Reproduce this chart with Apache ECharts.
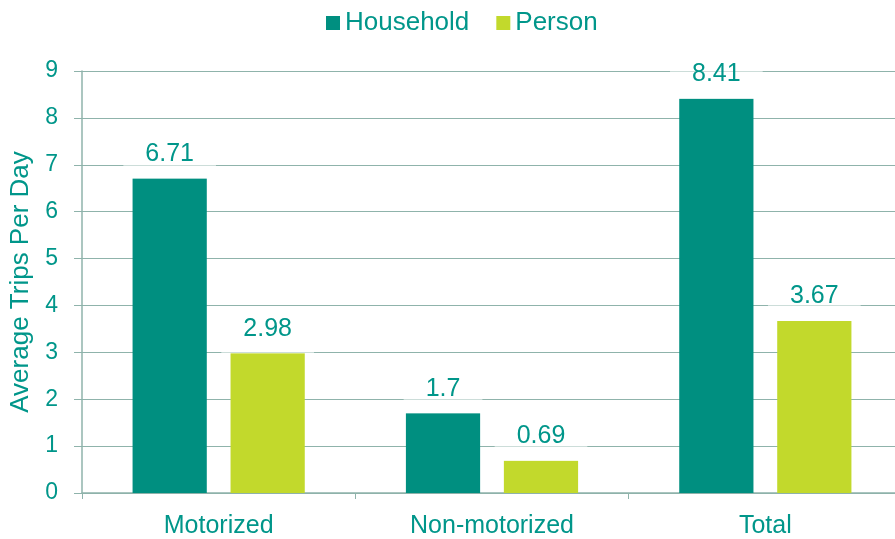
<!DOCTYPE html>
<html>
<head>
<meta charset="utf-8">
<script src="https://cdn.jsdelivr.net/npm/echarts@6/dist/echarts.min.js"></script>
<style>
html,body{margin:0;padding:0;background:#fff;}
#chart{width:895px;height:539px;}
</style>
</head>
<body>
<div id="chart"></div>
<script>
var categories = ['Motorized', 'Non-motorized', 'Total'];
var householdTrips = [6.71, 1.7, 8.41];
var personTrips = [2.98, 0.69, 3.67];
var yTicks = [0, 1, 2, 3, 4, 5, 6, 7, 8, 9];

var teal = '#008f80';
var lime = '#c2d92c';
var txt = '#00968a';
var lineCol = '#8fb3ab';

var chart = echarts.init(document.getElementById('chart'));

// label box half-transparent so gridline looks lighter behind it
var labelStyle = {
    show: true,
    position: 'top',
    distance: 0,
    color: txt,
    fontSize: 25,
    fontFamily: 'Liberation Sans',
    backgroundColor: 'rgba(255,255,255,0.55)',
    padding: [10, 22, 12, 22]
};

var option = {
    animation: false,
    textStyle: { fontFamily: 'Liberation Sans' },
    legend: {
        top: 5,
        left: 321,
        itemWidth: 14,
        itemHeight: 14,
        itemGap: 27,
        icon: 'rect',
        textStyle: { color: txt, fontSize: 26, fontFamily: 'Liberation Sans' },
        data: ['Household', 'Person']
    },
    grid: { left: 82, width: 820, top: 71, bottom: 46, outerBoundsMode: 'none', containLabel: false },
    xAxis: {
        type: 'category',
        data: categories,
        axisLine: { lineStyle: { color: lineCol, width: 1.5 } },
        axisTick: { show: true, length: 6, lineStyle: { color: lineCol } },
        axisLabel: { color: txt, fontSize: 25, margin: 21, fontFamily: 'Liberation Sans' }
    },
    yAxis: {
        type: 'value',
        min: yTicks[0],
        max: yTicks[yTicks.length - 1],
        interval: 1,
        name: 'Average Trips Per Day',
        nameLocation: 'middle',
        nameGap: 48,
        nameTextStyle: { color: txt, fontSize: 26, fontFamily: 'Liberation Sans' },
        axisLine: { show: true, lineStyle: { color: lineCol, width: 1.5 } },
        axisTick: { show: true, length: 8, lineStyle: { color: lineCol } },
        axisLabel: { color: txt, fontSize: 23, margin: 24, fontFamily: 'Liberation Sans' },
        splitLine: { show: true, lineStyle: { color: lineCol, width: 1 } }
    },
    series: [
        {
            name: 'Household',
            type: 'bar',
            data: householdTrips,
            itemStyle: { color: teal },
            barCategoryGap: '37%',
            barGap: '32%',
            label: labelStyle
        },
        {
            name: 'Person',
            type: 'bar',
            data: personTrips,
            itemStyle: { color: lime },
            label: labelStyle
        }
    ]
};

chart.setOption(option);
</script>
</body>
</html>
